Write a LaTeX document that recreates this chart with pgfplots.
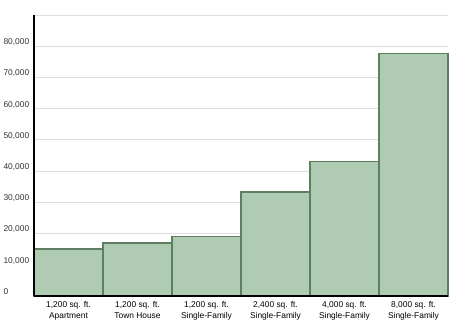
\documentclass[border=0pt]{standalone}
\usepackage{pgfplots}
\pgfplotsset{compat=1.18}
\usepackage{fontspec}
\setmainfont{Liberation Sans}
\definecolor{barfill}{HTML}{AFCCB3}
\definecolor{baredge}{HTML}{5E7E62}
\definecolor{gridc}{HTML}{DDDDDD}
\begin{document}
\begin{tikzpicture}
\begin{axis}[
  scale only axis,
  width=414pt, height=281pt,
  xmin=0, xmax=6,
  ymin=0, ymax=90000,
  axis lines*=left,
  axis line style={black, line width=1.6pt},
  x axis line style={-}, y axis line style={-},
  xtick={0.5,1.5,2.5,3.5,4.5,5.5},
  xticklabels={{1,200 sq. ft.\\Apartment},{1,200 sq. ft.\\Town House},{1,200 sq. ft.\\Single-Family},{2,400 sq. ft.\\Single-Family},{4,000 sq. ft.\\Single-Family},{8,000 sq. ft.\\Single-Family}},
  xticklabel style={align=center, font=\fontsize{8.4}{10.5}\selectfont, yshift=-2pt},
  ytick={0,10000,...,80000},
  yticklabels={0,{10,000},{20,000},{30,000},{40,000},{50,000},{60,000},{70,000},{80,000}},
  yticklabel style={anchor=west, xshift=-34pt, yshift=4pt, font=\fontsize{8.4}{10}\selectfont, text=black!80},
  extra y ticks={90000},
  extra y tick labels={},
  extra y tick style={grid=major},
  scaled y ticks=false,
  major tick length=0pt,
  ymajorgrids,
  grid style={gridc, line width=0.8pt},
  clip=false,
  axis on top=false,
]
\addplot[ybar interval, fill=barfill, draw=baredge, line width=1.5pt] coordinates {
  (0,15100) (1,17000) (2,19100) (3,33300) (4,43000) (5,77700) (6,77700)
};
\draw[black, line width=1.6pt] (axis cs:0,0) -- (axis cs:6,0);
\draw[black, line width=1.6pt] (axis cs:0,0) -- (axis cs:0,90000);
\path (current axis.south west) ++(-34pt,-33pt) rectangle ++(450pt,329pt);
\end{axis}
\end{tikzpicture}
\end{document}
